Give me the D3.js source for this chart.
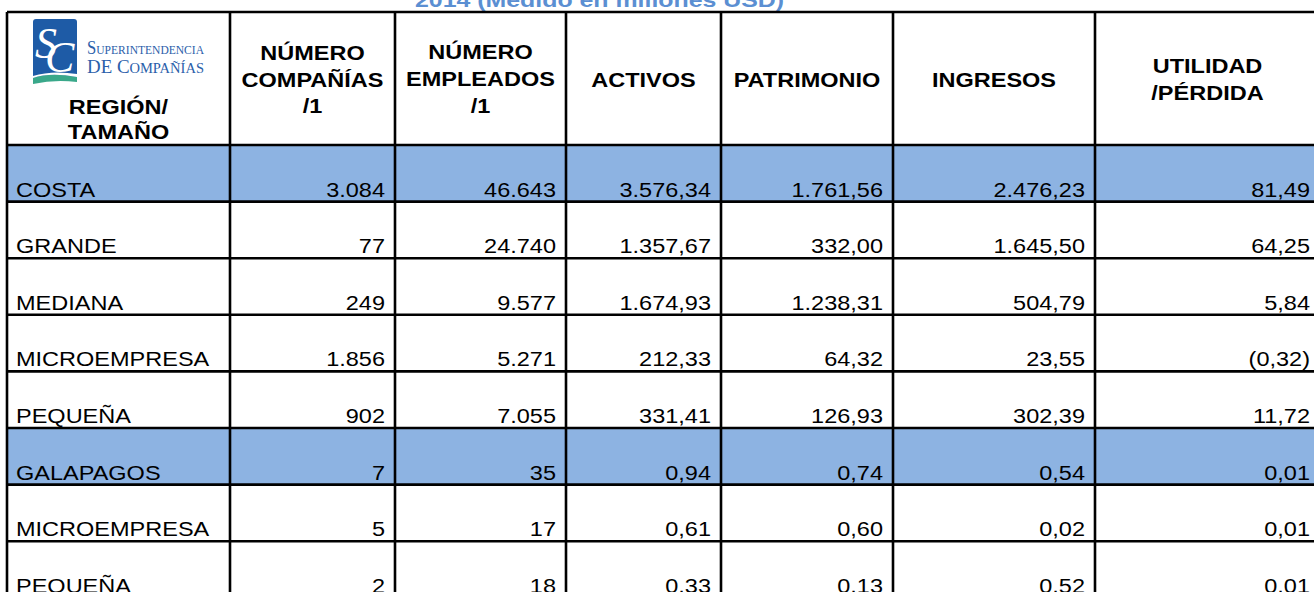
<!DOCTYPE html>
<html lang="es">
<head>
  <meta charset="UTF-8">
  <title>Compañías por región y tamaño 2014</title>
  <script src="https://d3js.org/d3.v7.min.js"></script>
  <style>
    body { margin: 0; background: #fff; }
    svg { display: block; font-family: "Liberation Sans", Arial, sans-serif; }
    .hdr { font-weight: bold; font-size: 21px; fill: #000; }
    .cell { font-size: 21px; fill: #000; }
    .title { font-weight: bold; font-size: 21px; fill: #5b8fd2; }
  </style>
</head>
<body>
<svg width="1314" height="592"></svg>
<script>
// Data
const rowLabels = ["COSTA", "GRANDE", "MEDIANA", "MICROEMPRESA", "PEQUEÑA", "GALAPAGOS", "MICROEMPRESA", "PEQUEÑA"];
const regionRows = [true, false, false, false, false, true, false, false];
const companias = [3084, 77, 249, 1856, 902, 7, 5, 2];
const empleados = [46643, 24740, 9577, 5271, 7055, 35, 17, 18];
const activos = [3576.34, 1357.67, 1674.93, 212.33, 331.41, 0.94, 0.61, 0.33];
const patrimonio = [1761.56, 332.00, 1238.31, 64.32, 126.93, 0.74, 0.60, 0.13];
const ingresos = [2476.23, 1645.50, 504.79, 23.55, 302.39, 0.54, 0.02, 0.52];
const utilidad = [81.49, 64.25, 5.84, -0.32, 11.72, 0.01, 0.01, 0.01];
const headers = [
  ["REGIÓN/", "TAMAÑO"],
  ["NÚMERO", "COMPAÑÍAS", "/1"],
  ["NÚMERO", "EMPLEADOS", "/1"],
  ["ACTIVOS"],
  ["PATRIMONIO"],
  ["INGRESOS"],
  ["UTILIDAD", "/PÉRDIDA"]
];
const title = "2014  (Medido en  millones USD)";

// Layout
const colEdges = [7, 230, 395, 566, 721, 893, 1095, 1320];
const headerTop = 12, bodyTop = 145, rowH = 56.6;
const sx = 1.12;

const loc = d3.formatLocale({ decimal: ",", thousands: ".", grouping: [3], currency: ["", ""] });
const fInt = loc.format(",d");
const fDec = loc.format(",.2f");
const fSigned = v => v < 0 ? "(" + fDec(-v) + ")" : fDec(v);

const columns = [companias, empleados, activos, patrimonio, ingresos, utilidad];
const colFormats = [fInt, fInt, fDec, fDec, fDec, fSigned];

const svg = d3.select("svg");
const y = d3.scaleLinear().domain([0, rowLabels.length]).range([bodyTop, bodyTop + rowLabels.length * rowH]);
const rowIdx = d3.range(rowLabels.length);

// Title (cut at top)
svg.append("text").attr("class", "title")
  .attr("transform", "translate(415,7) scale(1.185,1)")
  .text(title);

// Region row fills
svg.append("g").selectAll("rect")
  .data(rowIdx.filter(i => regionRows[i]))
  .join("rect")
  .attr("x", colEdges[0])
  .attr("y", i => y(i))
  .attr("width", colEdges[colEdges.length - 1] - colEdges[0])
  .attr("height", rowH)
  .attr("fill", "#8db3e2");

// Header text
const hdrBase = [[114, 139], [60, 87, 113], [59, 86, 113], [87], [87], [87], [73, 100]];
headers.forEach((lines, c) => {
  const cx = (colEdges[c] + colEdges[c + 1]) / 2;
  lines.forEach((t, k) => {
    svg.append("text").attr("class", "hdr")
      .attr("text-anchor", "middle")
      .attr("transform", `translate(${cx},${hdrBase[c][k]}) scale(${sx},1)`)
      .text(t);
  });
});

// Body text
const body = svg.append("g");
body.selectAll("text.lbl")
  .data(rowIdx)
  .join("text")
  .attr("class", "cell lbl")
  .attr("transform", i => `translate(${colEdges[0] + 9},${y(i + 1) - 5}) scale(${sx},1)`)
  .text(i => rowLabels[i]);

columns.forEach((vals, c) => {
  body.selectAll(null)
    .data(rowIdx)
    .join("text")
    .attr("class", "cell")
    .attr("text-anchor", "end")
    .attr("transform", i => `translate(${colEdges[c + 2] - 10},${y(i + 1) - 5}) scale(${sx},1)`)
    .text(i => colFormats[c](vals[i]));
});

// Grid lines
const grid = svg.append("g").attr("stroke", "#000").attr("stroke-width", 2.6);
const hLines = [headerTop].concat(d3.range(rowLabels.length + 1).map(i => y(i)));
grid.selectAll("line.h")
  .data(hLines)
  .join("line")
  .attr("x1", colEdges[0]).attr("x2", colEdges[colEdges.length - 1])
  .attr("y1", d => d).attr("y2", d => d);
grid.selectAll("line.v")
  .data(colEdges.slice(0, -1))
  .join("line")
  .attr("x1", d => d).attr("x2", d => d)
  .attr("y1", headerTop).attr("y2", y(rowLabels.length) + 10);

// Logo
const logo = svg.append("g");
logo.append("rect").attr("x", 33).attr("y", 19).attr("width", 44).attr("height", 62)
  .attr("rx", 3).attr("fill", "#1e5ba6");
const sc = logo.append("text").attr("x", 35).attr("y", 58)
  .attr("font-family", "Liberation Serif, serif").attr("font-style", "italic")
  .attr("font-size", 44).attr("fill", "#fff");
sc.append("tspan").text("S");
sc.append("tspan").attr("dx", -12).attr("dy", 14).text("C");
logo.append("path")
  .attr("d", "M33,78 Q50,72 77,77 L77,82 Q55,79 33,84 Z")
  .attr("fill", "#3aa88a");
logo.append("path")
  .attr("d", "M33,76 Q52,70 77,74 L77,77 Q50,72 33,78 Z")
  .attr("fill", "#fff");

const t1 = logo.append("text").attr("x", 87).attr("y", 54)
  .attr("font-family", "Liberation Serif, serif").attr("fill", "#2b60aa")
  .attr("textLength", 117).attr("lengthAdjust", "spacingAndGlyphs");
t1.append("tspan").attr("font-size", 19.5).text("S");
t1.append("tspan").attr("font-size", 13.5).text("UPERINTENDENCIA");
const t2 = logo.append("text").attr("x", 87).attr("y", 73)
  .attr("font-family", "Liberation Serif, serif").attr("fill", "#2b60aa")
  .attr("textLength", 117).attr("lengthAdjust", "spacingAndGlyphs");
t2.append("tspan").attr("font-size", 19.5).text("DE C");
t2.append("tspan").attr("font-size", 15).text("OMPAÑÍAS");
</script>
</body>
</html>
